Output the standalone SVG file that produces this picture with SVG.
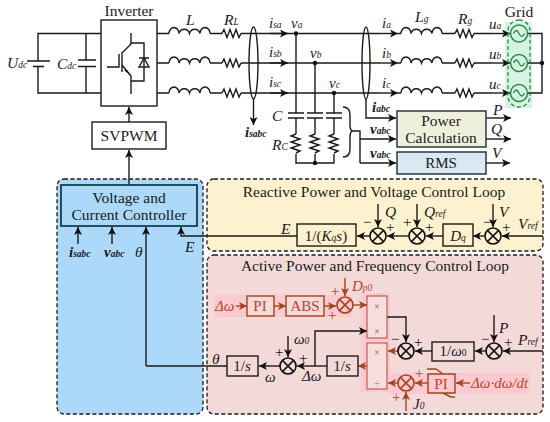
<svg xmlns="http://www.w3.org/2000/svg" xmlns:xlink="http://www.w3.org/1999/xlink" width="550" height="422" viewBox="0 0 550 422">
<style>
text{font-family:"Liberation Serif","Times New Roman",serif;fill:#1a1a1a;font-size:15px}
.i{font-style:italic}
.b{font-weight:bold;font-style:italic}
.c{text-anchor:middle}
.t{font-size:15.500px}
.s{font-size:9.500px}
.r{fill:#b8442e}
.w{fill:none;stroke:#1a1a1a;stroke-width:1.400}
.a{marker-end:url(#ah)}
.br{fill:none;stroke:#a5421c;stroke-width:1.400}
.ab{marker-end:url(#ahb)}
.box{fill:none;stroke:#1a1a1a;stroke-width:1.400}
.pan{stroke:#1a1a1a;stroke-width:1.300;stroke-dasharray:4 2.500}
</style>
<defs>
<marker id="ah" markerUnits="userSpaceOnUse" markerWidth="9" markerHeight="8" refX="8" refY="4" orient="auto"><path d="M0 0L8 4L0 8L2 4Z" fill="#111"/></marker>
<marker id="ahb" markerUnits="userSpaceOnUse" markerWidth="9" markerHeight="8" refX="8" refY="4" orient="auto"><path d="M0 0L8 4L0 8L2 4Z" fill="#a5421c"/></marker>
<g id="ind"><path d="M0 0a5 6 0 0 1 10 0a5.500 6 0 0 1 10.500 0a5.500 6 0 0 1 10.500 0a5 6 0 0 1 10 0" fill="none" stroke="#1a1a1a" stroke-width="1.400"/></g>
<g id="res"><path d="M0 0l2-4l3 8l3-8l3 8l3-8l3 8l2-4" fill="none" stroke="#1a1a1a" stroke-width="1.400"/></g>
<g id="vres"><path d="M0 0l-5 2l9 3l-9 3l9 3l-9 3l9 3l-4 2" fill="none" stroke="#1a1a1a" stroke-width="1.400"/></g>
<g id="sum"><circle r="8" fill="none" stroke="currentColor" stroke-width="1.600"/><path d="M-5.600-5.600L5.600 5.600M-5.600 5.600L5.600-5.600" stroke="currentColor" stroke-width="1.500"/></g>
<g id="src"><circle r="8.500" fill="none" stroke="#2f8a48" stroke-width="1.500"/><path d="M-5.500 0q2.700-6 5.500 0t5.500 0" fill="none" stroke="#2f8a48" stroke-width="1.300"/></g>
<g id="dot"><circle r="2.200" fill="#111"/></g>
</defs>

<g id="panels">
<rect class="pan" x="57" y="179" width="146" height="235" rx="7" fill="#acd8f9"/>
<rect class="pan" x="207" y="179" width="336" height="72" rx="7" fill="#fdf1cf"/>
<rect class="pan" x="207" y="255" width="336" height="159" rx="7" fill="#f3d9d8"/>
<rect x="505" y="22" width="27" height="86" fill="#d6f2e2"/>
<rect x="214" y="295" width="138" height="22" fill="#fbc9cf"/>
<rect x="361" y="293" width="29" height="99" fill="#fbc9cf"/>
<rect x="388" y="373" width="142" height="21" fill="#fbc9cf"/>
</g>

<g id="connectors">
<path class="w" d="M101 33.500H38V61M38 66V93H101M86 33.500V60M86 66V93"/>
<path class="w" d="M27 61H50M33 66.500H44M78 60H96M78 66.500H96"/>
<path class="w" d="M157 33.500H169M210 33.500H222M241 33.500H288"/><path class="w" d="M157 63H169M210 63H222M241 63H288"/><path class="w" d="M157 93H169M210 93H222M241 93H288"/>
<path class="w a" d="M270 33.500H288"/><path class="w a" d="M270 63H288"/><path class="w a" d="M270 93H288"/>
<path class="w" d="M288 33.500H380"/><path class="w" d="M288 63H380"/><path class="w" d="M288 93H380"/>
<path class="w a" d="M380 33.500H398"/><path class="w a" d="M380 63H398"/><path class="w a" d="M380 93H398"/>
<path class="w" d="M398 33.500H401M442 33.500H455M474 33.500H492"/><path class="w" d="M398 63H401M442 63H455M474 63H492"/><path class="w" d="M398 93H401M442 93H455M474 93H492"/>
<path class="w a" d="M492 33.500H510"/><path class="w a" d="M492 63H510"/><path class="w a" d="M492 93H510"/>
<path class="w" d="M528 33.500H542V93H528M528 63H542"/>
<ellipse class="w" cx="253.500" cy="63" rx="4.500" ry="36"/>
<ellipse class="w" cx="366" cy="63" rx="4" ry="36"/>
<path class="w a" d="M253.500 99V125"/>
<path class="w" d="M296 33.500V113M296 118V134M315 63V113M315 118V134M334 93V113M334 118V134"/>
<path class="w" d="M288 113H304M288 118H304M307 113H323M307 118H323M326 113H342M326 118H342"/>
<path class="w" d="M296 154V163H334V154M315 154V163"/>
<path class="w" d="M343 107Q350 107 350 115V125Q350 131 353 131Q350 131 350 137V149Q350 157 343 157M353 131H360V163"/>
<path class="w a" d="M366 99V118H396"/><path class="w a" d="M360 139H396"/><path class="w a" d="M360 163H396"/>
<path class="w a" d="M486 118H511"/><path class="w a" d="M486 139H511"/><path class="w a" d="M486 163H510"/>
<path class="w a" d="M129 122V107"/><path class="w a" d="M129 185V150"/>
<path class="w a" d="M78 244V227"/><path class="w a" d="M112 244V227"/><path class="w a" d="M146 366V227"/>
<path class="w a" d="M297 236H181V227"/><path class="w" d="M227 366H146"/>
<path class="w a" d="M370 236H357"/><path class="w a" d="M409 236H387"/><path class="w a" d="M443 236H426"/><path class="w a" d="M485 236H473"/><path class="w a" d="M543 236H502"/>
<path class="w a" d="M378 204V227"/><path class="w a" d="M417 204V227"/><path class="w a" d="M493 204V227"/>
<path class="br ab" d="M236 306H247"/><path class="br ab" d="M274 306H286"/><path class="br ab" d="M324 306H336"/><path class="br ab" d="M345 278V296"/><path class="br ab" d="M353 305H367"/>
<path class="w a" d="M315 366V331H367"/>
<path class="w a" d="M327 366H297"/><path class="w a" d="M280 366H259"/><path class="w a" d="M288 336V357"/>
<path class="br ab" d="M367 366H358"/>
<path class="w a" d="M387 317H406V342"/><path class="w a" d="M432 351H415"/><path class="w a" d="M486 351H475"/><path class="w a" d="M494 315V342"/><path class="w a" d="M543 351H503"/>
<path class="br ab" d="M398 351H388"/>
<path class="br ab" d="M398 383H388"/><path class="br ab" d="M428 383H415"/><path class="br ab" d="M470 383H456"/><path class="br ab" d="M406 411V392"/>
</g>

<g id="dots">
<use href="#dot" x="296" y="33.500"/><use href="#dot" x="315" y="63"/><use href="#dot" x="334" y="93"/><use href="#dot" x="315" y="163"/><use href="#dot" x="542" y="63"/>
</g>

<g id="dc-link">
<text x="7" y="68" class="i t">U<tspan class="s">dc</tspan></text>
<text x="57" y="69" class="i t">C<tspan class="s">dc</tspan></text>
</g>
<g id="inverter">
<rect x="101" y="20" width="56" height="86" fill="#fff" stroke="#1a1a1a" stroke-width="1.400"/>
<path class="w" d="M131 33V44L122 53M122 52V72M122 65L131 76V94M107 67H119V54M131 43H144V81H131"/>
<path d="M124 70L131 76L127 70Z" fill="#111"/>
<path class="w" d="M139 58H149M144 58L139 67H149Z"/>
<text x="129" y="16" class="c t">Inverter</text>
</g>
<g id="svpwm"><rect class="box" x="92" y="122" width="74" height="27"/><text x="129" y="141" class="c t">SVPWM</text></g>
<g id="filter-l">
<use href="#ind" x="169" y="33.500"/><use href="#ind" x="169" y="63"/><use href="#ind" x="169" y="93"/>
<use href="#res" x="222" y="33.500"/><use href="#res" x="222" y="63"/><use href="#res" x="222" y="93"/>
<text x="186" y="25" class="i t">L</text><text x="224" y="25" class="i t">R<tspan class="s">L</tspan></text>
<text x="269" y="28" class="i">i<tspan class="s">sa</tspan></text><text x="269" y="57" class="i">i<tspan class="s">sb</tspan></text><text x="269" y="87" class="i">i<tspan class="s">sc</tspan></text>
<text x="245" y="137" class="b">i<tspan class="s">sabc</tspan></text>
<text x="291" y="28" class="i">v<tspan class="s">a</tspan></text><text x="310" y="58" class="i">v<tspan class="s">b</tspan></text><text x="329" y="88" class="i">v<tspan class="s">c</tspan></text>
</g>
<g id="filter-c">
<use href="#vres" x="296" y="134"/><use href="#vres" x="315" y="134"/><use href="#vres" x="334" y="134"/>
<text x="272" y="121" class="i t">C</text><text x="272" y="150" class="i t">R<tspan class="s">C</tspan></text>
</g>
<g id="grid-line">
<use href="#ind" x="401" y="33.500"/><use href="#ind" x="401" y="63"/><use href="#ind" x="401" y="93"/>
<use href="#res" x="455" y="33.500"/><use href="#res" x="455" y="63"/><use href="#res" x="455" y="93"/>
<text x="382" y="28" class="i">i<tspan class="s">a</tspan></text><text x="382" y="58" class="i">i<tspan class="s">b</tspan></text><text x="382" y="88" class="i">i<tspan class="s">c</tspan></text>
<text x="415" y="22" class="i t">L<tspan class="s">g</tspan></text><text x="458" y="24" class="i t">R<tspan class="s">g</tspan></text>
<text x="489" y="29" class="i">u<tspan class="s">a</tspan></text><text x="489" y="59" class="i">u<tspan class="s">b</tspan></text><text x="489" y="89" class="i">u<tspan class="s">c</tspan></text>
</g>
<g id="grid">
<rect x="508" y="20" width="22" height="87" rx="11" fill="none" stroke="#2f8a48" stroke-width="1.300" stroke-dasharray="4 2.500"/>
<use href="#src" x="519" y="33.500"/><use href="#src" x="519" y="63"/><use href="#src" x="519" y="93"/>
<text x="519" y="17" class="c t">Grid</text>
</g>
<g id="power-calculation">
<rect x="397" y="111" width="89" height="36" fill="#eef0dc" stroke="#2a3a3a" stroke-width="1.500"/>
<text x="441" y="126" class="c t">Power</text><text x="441" y="143" class="c t">Calculation</text>
<text x="372" y="112" class="b">i<tspan class="s">abc</tspan></text><text x="370" y="134" class="b">v<tspan class="s">abc</tspan></text>
<text x="493" y="115" class="i t">P</text><text x="491" y="134" class="i t">Q</text>
</g>
<g id="rms">
<rect x="397" y="152" width="89" height="22" fill="#d9e8f2" stroke="#2a3a3a" stroke-width="1.500"/>
<text x="441" y="168" class="c">RMS</text>
<text x="370" y="158" class="b">v<tspan class="s">abc</tspan></text><text x="492" y="158" class="i t">V</text>
</g>
<g id="vc-controller">
<rect x="61" y="185" width="136" height="41" fill="none" stroke="#14404f" stroke-width="1.800"/>
<text x="129" y="203" class="c t">Voltage and</text><text x="129" y="220" class="c t">Current Controller</text>
<text x="69" y="257" class="b">i<tspan class="s">sabc</tspan></text><text x="104" y="257" class="b">v<tspan class="s">abc</tspan></text>
<text x="135" y="257" class="i t">θ</text><text x="185" y="252" class="i t">E</text>
</g>
<g id="reactive-loop">
<text x="374" y="197" class="c t">Reactive Power and Voltage Control Loop</text>
<text x="281" y="234" class="i t">E</text>
<rect class="box" x="297" y="224" width="59" height="22"/><text x="326" y="241" class="c">1/(<tspan class="i">K<tspan class="s">q</tspan>s</tspan>)</text>
<use href="#sum" x="378" y="236" color="#111"/><use href="#sum" x="417" y="236" color="#111"/><use href="#sum" x="493" y="236" color="#111"/>
<rect class="box" x="443" y="224" width="30" height="22"/><text x="458" y="241" class="c i">D<tspan class="s">q</tspan></text>
<text x="385" y="217" class="i t">Q</text><text x="424" y="217" class="i t">Q<tspan class="s">ref</tspan></text><text x="499" y="217" class="i t">V</text><text x="518" y="229" class="i t">V<tspan class="s">ref</tspan></text>
<text x="363" y="227">−</text><text x="386" y="232">+</text><text x="403" y="227">+</text><text x="425" y="232">+</text><text x="483" y="227">−</text><text x="502" y="232">+</text>
</g>
<g id="active-loop">
<text x="375" y="271" class="c t">Active Power and Frequency Control Loop</text>
<text x="215" y="311" class="i r">Δω</text>
<rect x="247" y="296" width="27" height="20" fill="#f3d9d8" stroke="#a5421c" stroke-width="1.400"/><text x="260" y="311" class="c r">PI</text>
<rect x="286" y="296" width="38" height="20" fill="#f3d9d8" stroke="#a5421c" stroke-width="1.400"/><text x="305" y="311" class="c r">ABS</text>
<use href="#sum" x="345" y="305" color="#a5421c"/>
<text x="352" y="291" class="i r">D<tspan class="s">p0</tspan></text>
<text x="331" y="296" class="r">+</text><text x="328" y="320" class="r">+</text>
<rect x="367" y="296" width="20" height="42" fill="#f6dede" stroke="#b8442e" stroke-width="1"/>
<rect x="367" y="343" width="20" height="46" fill="#f6dede" stroke="#b8442e" stroke-width="1"/>
<text x="377" y="310" class="c s r">×</text><text x="377" y="335" class="c s r">×</text><text x="377" y="356" class="c s r">×</text><text x="377" y="387" class="c s r">÷</text>
<use href="#sum" x="406" y="351" color="#111"/><use href="#sum" x="406" y="383" color="#a5421c"/>
<text x="391" y="344">−</text><text x="414" y="347">+</text>
<rect class="box" x="432" y="342" width="42" height="19"/><text x="453" y="356" class="c">1/<tspan class="i">ω</tspan><tspan class="s">0</tspan></text>
<use href="#sum" x="494" y="351" color="#111"/>
<text x="481" y="344">−</text><text x="504" y="347">+</text>
<text x="499" y="333" class="i t">P</text><text x="518" y="345" class="i t">P<tspan class="s">ref</tspan></text>
<path class="br" d="M427 369H436L443 374M428 374H455V393H428ZM443 393L451 397H455"/>
<text x="441" y="389" class="c r">PI</text>
<text x="471" y="388" class="i r">Δω·dω/dt</text>
<text x="415" y="378" class="r">+</text><text x="392" y="402" class="r">+</text>
<text x="413" y="409" class="i">J<tspan class="s">0</tspan></text>
<rect class="box" x="327" y="356" width="31" height="20"/><text x="342" y="371" class="c">1/<tspan class="i">s</tspan></text>
<rect class="box" x="227" y="356" width="31" height="20"/><text x="242" y="371" class="c">1/<tspan class="i">s</tspan></text>
<use href="#sum" x="288" y="366" color="#111"/>
<text x="294" y="344" class="i">ω<tspan class="s">0</tspan></text>
<text x="275" y="357">+</text><text x="299" y="363">+</text>
<text x="302" y="381" class="i">Δω</text><text x="265" y="382" class="i">ω</text>
<text x="212" y="364" class="i t">θ</text>
</g>
</svg>
